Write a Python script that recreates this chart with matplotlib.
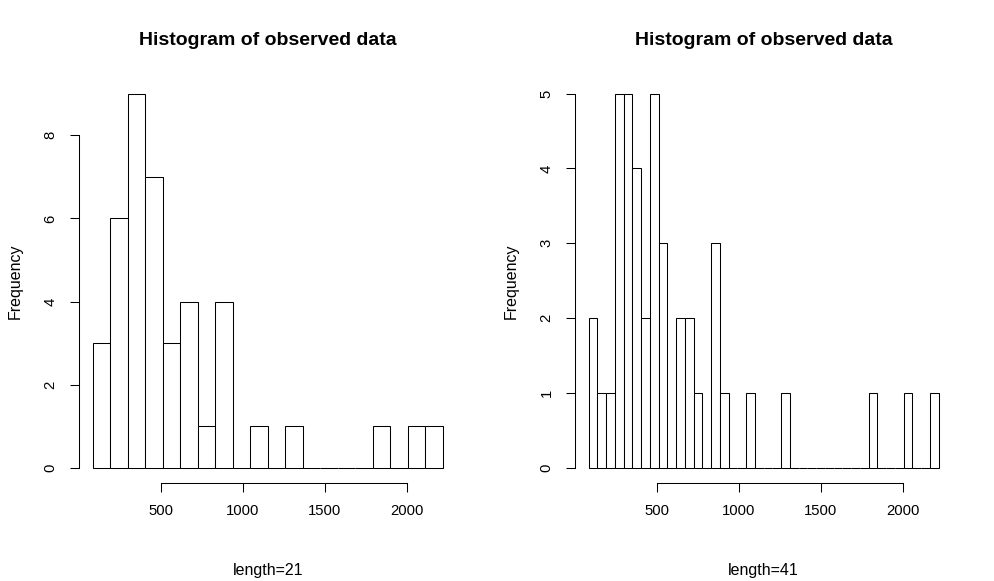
import numpy as np
import matplotlib.pyplot as plt

plt.rcParams['font.family'] = ['Liberation Sans', 'DejaVu Sans']

data_min = 85
data_max = 2219
counts_21 = [3, 6, 9, 7, 3, 4, 1, 4, 0, 1, 0, 1, 0, 0, 0, 0, 1, 0, 1, 1]
counts_41 = [2, 1, 1, 5, 5, 4, 2, 5, 3, 0, 2, 2, 1, 0, 3, 1, 0, 0, 1, 0,
             0, 0, 1, 0, 0, 0, 0, 0, 0, 0, 0, 0, 1, 0, 0, 0, 1, 0, 0, 1]
xticks = [500, 1000, 1500, 2000]
yticks_21 = [0, 2, 4, 6, 8]
yticks_41 = [0, 1, 2, 3, 4, 5]

W, H = 994, 581
fig = plt.figure(figsize=(W / 100, H / 100), dpi=100)


def r_hist(ax, counts, n_breaks, yticks):
    edges = np.linspace(data_min, data_max, n_breaks)
    ax.bar(edges[:-1], counts, width=np.diff(edges), align='edge',
           color='white', edgecolor='black', linewidth=0.75)
    span = data_max - data_min
    ax.set_xlim(data_min - 0.04 * span, data_max + 0.04 * span)
    ymax = max(counts)
    ax.set_ylim(-0.04 * ymax, ymax * 1.04)
    for s in ['top', 'right']:
        ax.spines[s].set_visible(False)
    ax.spines['left'].set_bounds(yticks[0], yticks[-1])
    ax.spines['bottom'].set_bounds(xticks[0], xticks[-1])
    ax.spines['left'].set_linewidth(0.75)
    ax.spines['bottom'].set_linewidth(0.75)
    ax.set_xticks(xticks)
    ax.set_yticks(yticks)
    ax.tick_params(axis='both', length=6.5, width=0.75, labelsize=10.7, pad=8.6)
    for t in ax.get_yticklabels():
        t.set_rotation(90)
        t.set_va('center')


ax1 = fig.add_axes([78.7 / W, 1 - 483 / H, 378 / W, 404.4 / H])
ax2 = fig.add_axes([574.5 / W, 1 - 483 / H, 378 / W, 404.4 / H])
r_hist(ax1, counts_21, 21, yticks_21)
r_hist(ax2, counts_41, 41, yticks_41)

for cx, fx, lab in [(267.7, 15.5, 'length=21'), (763.5, 511, 'length=41')]:
    fig.text(cx / W, 1 - 40.5 / H, 'Histogram of observed data', ha='center',
             va='center', fontsize=14, fontweight='bold')
    fig.text(cx / W, 1 - 570 / H, lab, ha='center', va='center', fontsize=11.5)
    fig.text(fx / W, 1 - 281 / H, 'Frequency', ha='center', va='center',
             rotation=90, fontsize=11.5)

fig.savefig('out.png', dpi=100)
